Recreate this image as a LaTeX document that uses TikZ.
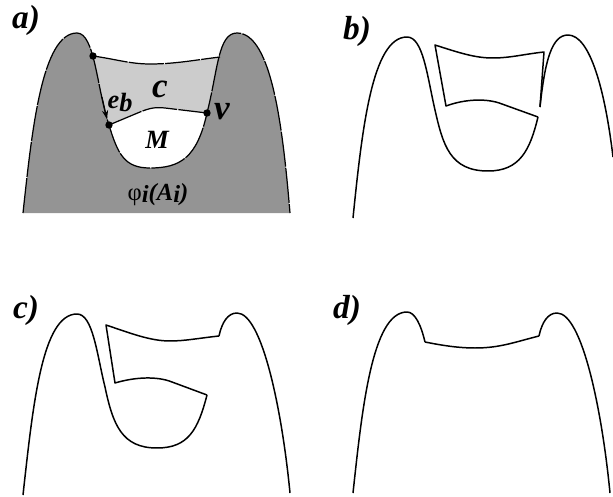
\documentclass[tikz,border=0pt]{standalone}
\usepackage{fontspec}
\setmainfont{Liberation Serif}
\usetikzlibrary{arrows.meta}

\begin{document}
\begin{tikzpicture}[
    x=0.02cm, y=-0.02cm,
    outline/.style={line width=0.85pt, black, line join=round},
    broken/.style={line width=0.7pt, black, dash pattern=on 20pt off 0.7pt},
    vertex/.style={circle, fill=black, inner sep=0pt, minimum size=4.2pt},
    panel/.style={font=\fontsize{19}{19}\selectfont\bfseries\itshape},
    label/.style={font=\fontsize{15}{15}\selectfont\bfseries\itshape, inner sep=0pt},
    biglabel/.style={font=\fontsize{20}{20}\selectfont\bfseries\itshape, inner sep=0pt}
    ]

    \useasboundingbox (0,0) rectangle (613,497);

    % Panel a
    \fill[black!20] (93,56) .. controls (115,59) and (130,64) .. (150,64) .. controls (175,64) and (195,60) .. (220,57) -- (230,57) -- (225,113) -- (207,113) -- (165,108) .. controls (155,107) and (150,108) .. (140,112) -- (109,125) -- (90,125) -- cycle;
    \fill[black!42] (23,213) .. controls (32,130) and (42,33) .. (77,33) .. controls (95,33) and (97,90) .. (109,125) .. controls (118,155) and (125,168) .. (150,168) .. controls (180,168) and (197,158) .. (207,113) .. controls (218,70) and (218,33) .. (237,33) .. controls (272,33) and (283,130) .. (290,213) -- cycle;

    \draw[broken] (23,213) .. controls (32,130) and (42,33) .. (77,33) .. controls (95,33) and (97,90) .. (109,125) .. controls (118,155) and (125,168) .. (150,168) .. controls (180,168) and (197,158) .. (207,113) .. controls (218,70) and (218,33) .. (237,33) .. controls (272,33) and (283,130) .. (290,213);
    \draw[broken] (93,56) .. controls (115,59) and (130,64) .. (150,64) .. controls (175,64) and (195,60) .. (220,57);
    \draw[broken] (109,125) -- (140,112) .. controls (150,108) and (155,107) .. (165,108) -- (207,113);

    \node[vertex] (vTop) at (93,56) {};
    \node[vertex] (vLow) at (109,125) {};
    \node[vertex] (vRight) at (207,113) {};
    \coordinate (ebTail) at (102,97);
    \coordinate (ebTip) at (107,119);
    \draw[-{Stealth[length=5pt,width=3.5pt]}, line width=0.6pt] (ebTail) -- (ebTip);

    \node[panel] (lblA) at (26,20) {a)};
    \node[biglabel] (lblC) at (160,89) {c};
    \node[label] (lblEb) at (120,103) {e\raisebox{-2pt}{b}};
    \node[biglabel] (lblV) at (222,112) {v};
    \node[label] (lblM) at (157,140) {M};
    \node[label, font=\fontsize{14}{14}\selectfont\bfseries\itshape] (lblPhi) at (158,195) {\normalfont φ\raisebox{-1pt}{\bfseries\itshape i}\bfseries\itshape(A\raisebox{-1pt}{i})};

    % Panel b
    \node[panel] (lblB) at (357,31) {b)};
    \draw[outline] (353,218) .. controls (362,130) and (372,37) .. (407,37) .. controls (423,37) and (427,75) .. (435,110) .. controls (443,145) and (450,171) .. (488,171) .. controls (520,171) and (530,150) .. (538,117);
    \draw[outline] (538,117) -- (502,104) .. controls (487,98) and (465,99) .. (446,106) -- (435,45) .. controls (460,53) and (475,58) .. (493,58) .. controls (510,58) and (525,54) .. (544,52) -- (540,107);
    \draw[outline] (540,107) .. controls (545,60) and (552,35) .. (568,35) .. controls (590,35) and (605,90) .. (613,157);

    % Panel c
    \node[panel] (lblCc) at (26,310) {c)};
    \draw[outline] (23,495) .. controls (33,405) and (42,314) .. (77,314) .. controls (93,314) and (97,355) .. (105,387) .. controls (113,425) and (122,448) .. (157,448) .. controls (188,448) and (198,430) .. (207,395);
    \draw[outline] (207,395) -- (172,382) .. controls (157,376) and (135,377) .. (115,383) -- (106,325) .. controls (130,333) and (150,341) .. (170,341) .. controls (185,341) and (200,338) .. (219,336);
    \draw[outline] (219,336) .. controls (222,322) and (228,313) .. (237,313) .. controls (262,313) and (282,410) .. (290,493);

    % Panel d
    \node[panel] (lblD) at (347,310) {d)};
    \draw[outline] (353,493) .. controls (362,410) and (372,312) .. (407,312) .. controls (415,312) and (421,325) .. (425,342);
    \draw[outline] (425,342) .. controls (445,346) and (460,348) .. (475,348) .. controls (500,348) and (515,342) .. (539,336);
    \draw[outline] (539,336) .. controls (542,322) and (548,313) .. (557,313) .. controls (582,313) and (602,410) .. (610,493);

\end{tikzpicture}
\end{document}
